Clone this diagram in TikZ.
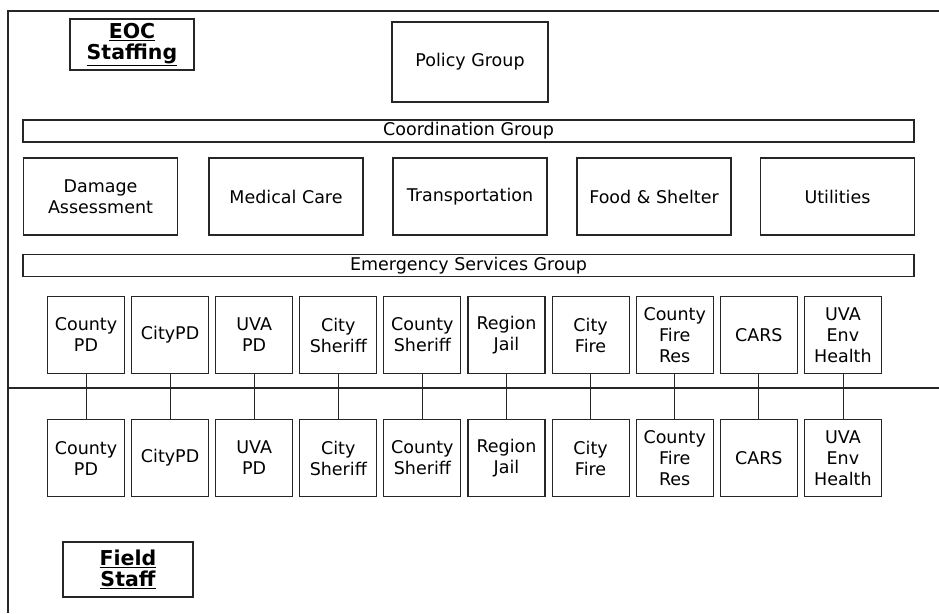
\documentclass[tikz,border=0pt]{standalone}
\usepackage{fontspec}
\setmainfont{DejaVu Sans}
\begin{document}
\begin{tikzpicture}[x=1pt,y=-1pt,
  ln/.style={draw=black!85,line width=1.1pt},
  box/.style={ln,rectangle,inner sep=0pt,align=center,font=\fontsize{17.5}{21}\selectfont},
  bar/.style={box,minimum height=22pt,minimum width=891pt},
  wide/.style={box,minimum width=154pt,minimum height=77pt},
  unit/.style={box,minimum width=77pt,minimum height=77pt},
  title/.style={box,font=\fontsize{20.5}{22}\bfseries\selectfont}
]
\useasboundingbox (0,0) rectangle (939,613);

% outer frame and EOC / field divider
\draw[ln] (939,11) -- (8,11) -- (8,613);
\draw[ln] (8,388) -- (939,388);

% headings
\node[title,minimum width=124pt,minimum height=51pt] (eoc) at (132,44.5) {\underline{EOC}\\[-1pt]\underline{Staffing}};
\node[title,minimum width=130pt,minimum height=55pt] (field) at (128,569.5) {\underline{Field}\\[-1pt]\underline{Staff}};

\node[box,minimum width=156pt,minimum height=80pt] (policy) at (470,62) {Policy Group};

% coordination layer
\node[bar] (coord) at (468.5,131) {Coordination Group};
\node[wide] (dmg) at (100.5,196.5) {Damage\\Assessment};
\node[wide] (med) at (286,196.5) {Medical Care};
\node[wide] (trans) at (470,196.5) {Transportation};
\node[wide] (food) at (654,196.5) {Food \& Shelter};
\node[wide] (util) at (837.5,196.5) {Utilities};

\node[bar] (esg) at (468.5,265.5) {Emergency Services Group};

% emergency service units, EOC row (a) and field row (b)
\foreach \i/\t in {0/{County\\PD},1/{CityPD},2/{UVA\\PD},3/{City\\Sheriff},4/{County\\Sheriff},
                   5/{Region\\Jail},6/{City\\Fire},7/{County\\Fire\\Res},8/{CARS},9/{UVA\\Env\\Health}}{
  \node[unit] (a\i) at (86+84.1*\i,335) {\t};
  \node[unit] (b\i) at (86+84.1*\i,458) {\t};
  \draw[ln,line width=0.8pt] (a\i.south) -- (b\i.north);
}
\end{tikzpicture}
\end{document}
